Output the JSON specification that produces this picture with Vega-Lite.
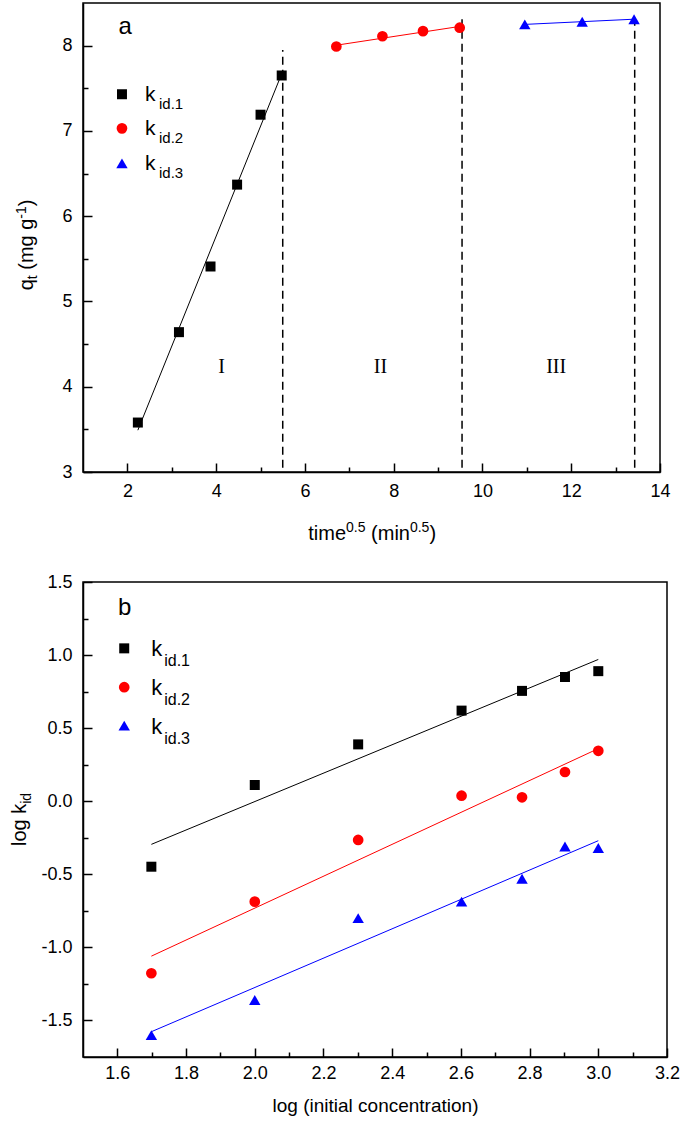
{
  "$schema": "https://vega.github.io/schema/vega-lite/v6.json",
  "autosize": {"type": "pad"},
  "padding": {"left": 9, "top": 2, "right": 5, "bottom": 5},
  "background": "white",
  "spacing": 110,
  "bounds": "flush",
  "config": {
    "view": {"stroke": "black", "strokeWidth": 1.5},
    "font": "Liberation Sans",
    "text": {"font": "Liberation Sans", "color": "black"},
    "axis": {
      "domainColor": "black", "domainWidth": 1.5, "tickColor": "black", "tickWidth": 1.5,
      "labelColor": "black", "titleColor": "black", "labelFont": "Liberation Sans", "titleFont": "Liberation Sans",
      "labelFontSize": 18, "titleFontSize": 20, "titleFontWeight": "normal", "grid": false,
      "labelFlush": false, "labelOverlap": false, "labelBound": false
    }
  },
  "datasets": {
    "a_pts": [
      {"x": 2.236, "y": 3.58, "s": "k1"}, {"x": 3.162, "y": 4.64, "s": "k1"}, {"x": 3.873, "y": 5.41, "s": "k1"},
      {"x": 4.472, "y": 6.37, "s": "k1"}, {"x": 5.0, "y": 7.19, "s": "k1"}, {"x": 5.477, "y": 7.65, "s": "k1"},
      {"x": 6.708, "y": 7.99, "s": "k2"}, {"x": 7.746, "y": 8.11, "s": "k2"}, {"x": 8.66, "y": 8.17, "s": "k2"}, {"x": 9.487, "y": 8.21, "s": "k2"},
      {"x": 10.954, "y": 8.25, "s": "k3"}, {"x": 12.247, "y": 8.28, "s": "k3"}, {"x": 13.416, "y": 8.31, "s": "k3"}
    ],
    "a_fit": [
      {"x": 2.236, "y": 3.49, "s": "k1"}, {"x": 5.477, "y": 7.67, "s": "k1"},
      {"x": 6.708, "y": 8.005, "s": "k2"}, {"x": 9.487, "y": 8.225, "s": "k2"},
      {"x": 10.954, "y": 8.249, "s": "k3"}, {"x": 13.416, "y": 8.31, "s": "k3"}
    ],
    "a_dash": [
      {"x": 5.5, "y": 3.05, "y2": 7.95}, {"x": 9.54, "y": 3.05, "y2": 8.31}, {"x": 13.43, "y": 3.05, "y2": 8.37}
    ],
    "a_roman": [
      {"x": 4.12, "y": 4.23, "t": "I"}, {"x": 7.7, "y": 4.23, "t": "II"}, {"x": 11.66, "y": 4.23, "t": "III"}
    ],
    "a_tag": [{"x": 1.95, "y": 8.14, "t": "a"}],
    "a_leg": [
      {"x": 1.878, "y": 7.43, "s": "k1", "sub": "id.1"},
      {"x": 1.878, "y": 7.03, "s": "k2", "sub": "id.2"},
      {"x": 1.878, "y": 6.62, "s": "k3", "sub": "id.3"}
    ],
    "a_xtitle": [
      {"x": 6.075, "y": 2.199, "t": "time", "part": "main"},
      {"x": 6.926, "y": 2.293, "t": "0.5", "part": "script"},
      {"x": 7.491, "y": 2.199, "t": "(min", "part": "main"},
      {"x": 8.365, "y": 2.293, "t": "0.5", "part": "script"},
      {"x": 8.804, "y": 2.199, "t": ")", "part": "main"}
    ],
    "a_ytitle": [
      {"x": -0.119, "y": 5.13, "t": "q", "part": "main"},
      {"x": -0.029, "y": 5.26, "t": "t", "part": "script"},
      {"x": -0.119, "y": 5.372, "t": "(mg g", "part": "main"},
      {"x": -0.277, "y": 5.971, "t": "-1", "part": "script"},
      {"x": -0.119, "y": 6.116, "t": ")", "part": "main"}
    ],
    "b_pts": [
      {"x": 1.699, "y": -0.448, "s": "k1"}, {"x": 2.0, "y": 0.111, "s": "k1"}, {"x": 2.301, "y": 0.389, "s": "k1"},
      {"x": 2.602, "y": 0.62, "s": "k1"}, {"x": 2.778, "y": 0.755, "s": "k1"}, {"x": 2.903, "y": 0.85, "s": "k1"}, {"x": 3.0, "y": 0.89, "s": "k1"},
      {"x": 1.699, "y": -1.177, "s": "k2"}, {"x": 2.0, "y": -0.687, "s": "k2"}, {"x": 2.301, "y": -0.265, "s": "k2"},
      {"x": 2.602, "y": 0.038, "s": "k2"}, {"x": 2.778, "y": 0.027, "s": "k2"}, {"x": 2.903, "y": 0.2, "s": "k2"}, {"x": 3.0, "y": 0.345, "s": "k2"},
      {"x": 1.699, "y": -1.6, "s": "k3"}, {"x": 2.0, "y": -1.36, "s": "k3"}, {"x": 2.301, "y": -0.8, "s": "k3"},
      {"x": 2.602, "y": -0.687, "s": "k3"}, {"x": 2.778, "y": -0.53, "s": "k3"}, {"x": 2.903, "y": -0.31, "s": "k3"}, {"x": 3.0, "y": -0.32, "s": "k3"}
    ],
    "b_fit": [
      {"x": 1.699, "y": -0.295, "s": "k1"}, {"x": 3.0, "y": 0.97, "s": "k1"},
      {"x": 1.699, "y": -1.06, "s": "k2"}, {"x": 3.0, "y": 0.36, "s": "k2"},
      {"x": 1.699, "y": -1.577, "s": "k3"}, {"x": 3.0, "y": -0.27, "s": "k3"}
    ],
    "b_tag": [{"x": 1.621, "y": 1.274, "t": "b"}],
    "b_leg": [
      {"x": 1.62, "y": 1.046, "s": "k1", "sub": "id.1"},
      {"x": 1.62, "y": 0.78, "s": "k2", "sub": "id.2"},
      {"x": 1.62, "y": 0.517, "s": "k3", "sub": "id.3"}
    ],
    "b_ytitle": [
      {"x": 1.334, "y": -0.306, "t": "log k", "part": "main"},
      {"x": 1.349, "y": -0.018, "t": "id", "part": "script"}
    ]
  },
  "vconcat": [
    {
      "width": 577,
      "height": 469,
      "encoding": {
        "x": {"field": "x", "type": "quantitative", "scale": {"domain": [1, 14], "nice": false, "zero": false}, "axis": null},
        "y": {"field": "y", "type": "quantitative", "scale": {"domain": [3, 8.5], "nice": false, "zero": false}, "axis": null}
      },
      "layer": [
        {
          "data": {"name": "a_dash"},
          "mark": {"type": "rule", "color": "black", "strokeWidth": 1.5, "strokeDash": [8, 5]},
          "encoding": {"y2": {"field": "y2"}}
        },
        {
          "data": {"name": "a_fit"},
          "mark": {"type": "line", "strokeWidth": 1},
          "encoding": {
            "color": {"field": "s", "type": "nominal", "scale": {"domain": ["k1", "k2", "k3"], "range": ["#000000", "#ff0000", "#0000ff"]}, "legend": null}
          }
        },
        {
          "data": {"name": "a_pts"},
          "mark": {"type": "point", "filled": true, "opacity": 1},
          "encoding": {
            "x": {"field": "x", "type": "quantitative", "scale": {"domain": [1, 14], "nice": false, "zero": false},
              "axis": {"values": [2, 4, 6, 8, 10, 12, 14], "tickSize": -9, "labelPadding": 19, "format": "d", "title": null, "orient": "bottom"}},
            "y": {"field": "y", "type": "quantitative", "scale": {"domain": [3, 8.5], "nice": false, "zero": false},
              "axis": {"values": [3, 4, 5, 6, 7, 8], "tickSize": -9, "labelPadding": 20, "format": "d", "title": null, "orient": "left"}},
            "color": {"field": "s", "type": "nominal", "scale": {"domain": ["k1", "k2", "k3"], "range": ["#000000", "#ff0000", "#0000ff"]}, "legend": null},
            "shape": {"field": "s", "type": "nominal", "scale": {"domain": ["k1", "k2", "k3"], "range": ["square", "circle", "triangle-up"]}, "legend": null},
            "size": {"field": "s", "type": "nominal", "scale": {"domain": ["k1", "k2", "k3"], "range": [100, 130, 150]}, "legend": null}
          }
        },
        {
          "data": {"name": "a_pts"},
          "mark": {"type": "point", "opacity": 0},
          "encoding": {
            "x": {"field": "x", "type": "quantitative", "scale": {"domain": [1, 14], "nice": false, "zero": false},
              "axis": {"values": [3, 5, 7, 9, 11, 13], "tickSize": -5, "labels": false, "domain": false, "title": null, "orient": "bottom"}},
            "y": {"field": "y", "type": "quantitative", "scale": {"domain": [3, 8.5], "nice": false, "zero": false},
              "axis": {"values": [3.5, 4.5, 5.5, 6.5, 7.5], "tickSize": -5, "labels": false, "domain": false, "title": null, "orient": "left"}}
          }
        },
        {
          "data": {"name": "a_roman"},
          "mark": {"type": "text", "font": "Liberation Serif", "fontSize": 20, "baseline": "middle", "align": "center", "color": "black"},
          "encoding": {"text": {"field": "t"}}
        },
        {
          "data": {"name": "a_tag"},
          "mark": {"type": "text", "fontSize": 24, "baseline": "alphabetic", "align": "center", "color": "black"},
          "encoding": {"text": {"field": "t"}}
        },
        {
          "data": {"name": "a_leg"},
          "mark": {"type": "point", "filled": true, "opacity": 1},
          "encoding": {
            "color": {"field": "s", "type": "nominal", "scale": {"domain": ["k1", "k2", "k3"], "range": ["#000000", "#ff0000", "#0000ff"]}, "legend": null},
            "shape": {"field": "s", "type": "nominal", "scale": {"domain": ["k1", "k2", "k3"], "range": ["square", "circle", "triangle-up"]}, "legend": null},
            "size": {"field": "s", "type": "nominal", "scale": {"domain": ["k1", "k2", "k3"], "range": [100, 130, 150]}, "legend": null}
          }
        },
        {
          "data": {"name": "a_leg"},
          "mark": {"type": "text", "fontSize": 21, "align": "left", "baseline": "alphabetic", "dx": 23, "dy": 7, "color": "black"},
          "encoding": {"text": {"value": "k"}}
        },
        {
          "data": {"name": "a_leg"},
          "mark": {"type": "text", "fontSize": 15, "align": "left", "baseline": "alphabetic", "dx": 37, "dy": 15, "color": "black"},
          "encoding": {"text": {"field": "sub"}}
        },
        {
          "data": {"name": "a_xtitle"},
          "transform": [{"filter": "datum.part == 'main'"}],
          "mark": {"type": "text", "fontSize": 20, "align": "left", "baseline": "alphabetic", "color": "black"},
          "encoding": {"text": {"field": "t"}}
        },
        {
          "data": {"name": "a_xtitle"},
          "transform": [{"filter": "datum.part == 'script'"}],
          "mark": {"type": "text", "fontSize": 14, "align": "left", "baseline": "alphabetic", "color": "black"},
          "encoding": {"text": {"field": "t"}}
        },
        {
          "data": {"name": "a_ytitle"},
          "transform": [{"filter": "datum.part == 'main'"}],
          "mark": {"type": "text", "fontSize": 20, "align": "left", "baseline": "alphabetic", "angle": 270, "color": "black"},
          "encoding": {"text": {"field": "t"}}
        },
        {
          "data": {"name": "a_ytitle"},
          "transform": [{"filter": "datum.part == 'script'"}],
          "mark": {"type": "text", "fontSize": 14, "align": "left", "baseline": "alphabetic", "angle": 270, "color": "black"},
          "encoding": {"text": {"field": "t"}}
        }
      ],
      "resolve": {"axis": {"x": "independent", "y": "independent"}}
    },
    {
      "width": 584,
      "height": 475,
      "encoding": {
        "x": {"field": "x", "type": "quantitative", "scale": {"domain": [1.5, 3.2], "nice": false, "zero": false}, "axis": null},
        "y": {"field": "y", "type": "quantitative", "scale": {"domain": [-1.75, 1.5], "nice": false, "zero": false}, "axis": null}
      },
      "layer": [
        {
          "data": {"name": "b_fit"},
          "mark": {"type": "line", "strokeWidth": 1},
          "encoding": {
            "color": {"field": "s", "type": "nominal", "scale": {"domain": ["k1", "k2", "k3"], "range": ["#000000", "#ff0000", "#0000ff"]}, "legend": null}
          }
        },
        {
          "data": {"name": "b_pts"},
          "mark": {"type": "point", "filled": true, "opacity": 1},
          "encoding": {
            "x": {"field": "x", "type": "quantitative", "scale": {"domain": [1.5, 3.2], "nice": false, "zero": false},
              "axis": {"values": [1.6, 1.8, 2.0, 2.2, 2.4, 2.6, 2.8, 3.0, 3.2], "tickSize": -9, "labelPadding": 16, "format": ".1f",
                "title": "log (initial concentration)", "titleFontSize": 19, "titlePadding": 14, "orient": "bottom"}},
            "y": {"field": "y", "type": "quantitative", "scale": {"domain": [-1.75, 1.5], "nice": false, "zero": false},
              "axis": {"values": [-1.5, -1.0, -0.5, 0.0, 0.5, 1.0, 1.5], "tickSize": -9, "labelPadding": 20,
                "labelExpr": "replace(format(datum.value, '.1f'), '−', '-')", "title": null, "orient": "left"}},
            "color": {"field": "s", "type": "nominal", "scale": {"domain": ["k1", "k2", "k3"], "range": ["#000000", "#ff0000", "#0000ff"]}, "legend": null},
            "shape": {"field": "s", "type": "nominal", "scale": {"domain": ["k1", "k2", "k3"], "range": ["square", "circle", "triangle-up"]}, "legend": null},
            "size": {"field": "s", "type": "nominal", "scale": {"domain": ["k1", "k2", "k3"], "range": [100, 130, 150]}, "legend": null}
          }
        },
        {
          "data": {"name": "b_pts"},
          "mark": {"type": "point", "opacity": 0},
          "encoding": {
            "x": {"field": "x", "type": "quantitative", "scale": {"domain": [1.5, 3.2], "nice": false, "zero": false},
              "axis": {"values": [1.7, 1.9, 2.1, 2.3, 2.5, 2.7, 2.9, 3.1], "tickSize": -5, "labels": false, "domain": false, "title": null, "orient": "bottom"}},
            "y": {"field": "y", "type": "quantitative", "scale": {"domain": [-1.75, 1.5], "nice": false, "zero": false},
              "axis": {"values": [-1.25, -0.75, -0.25, 0.25, 0.75, 1.25], "tickSize": -5, "labels": false, "domain": false, "title": null, "orient": "left"}}
          }
        },
        {
          "data": {"name": "b_tag"},
          "mark": {"type": "text", "fontSize": 24, "baseline": "alphabetic", "align": "center", "color": "black"},
          "encoding": {"text": {"field": "t"}}
        },
        {
          "data": {"name": "b_leg"},
          "mark": {"type": "point", "filled": true, "opacity": 1},
          "encoding": {
            "color": {"field": "s", "type": "nominal", "scale": {"domain": ["k1", "k2", "k3"], "range": ["#000000", "#ff0000", "#0000ff"]}, "legend": null},
            "shape": {"field": "s", "type": "nominal", "scale": {"domain": ["k1", "k2", "k3"], "range": ["square", "circle", "triangle-up"]}, "legend": null},
            "size": {"field": "s", "type": "nominal", "scale": {"domain": ["k1", "k2", "k3"], "range": [100, 130, 150]}, "legend": null}
          }
        },
        {
          "data": {"name": "b_leg"},
          "mark": {"type": "text", "fontSize": 22, "align": "left", "baseline": "alphabetic", "dx": 27, "dy": 8, "color": "black"},
          "encoding": {"text": {"value": "k"}}
        },
        {
          "data": {"name": "b_leg"},
          "mark": {"type": "text", "fontSize": 16, "align": "left", "baseline": "alphabetic", "dx": 40, "dy": 18, "color": "black"},
          "encoding": {"text": {"field": "sub"}}
        },
        {
          "data": {"name": "b_ytitle"},
          "transform": [{"filter": "datum.part == 'main'"}],
          "mark": {"type": "text", "fontSize": 20, "align": "left", "baseline": "alphabetic", "angle": 270, "color": "black"},
          "encoding": {"text": {"field": "t"}}
        },
        {
          "data": {"name": "b_ytitle"},
          "transform": [{"filter": "datum.part == 'script'"}],
          "mark": {"type": "text", "fontSize": 14, "align": "left", "baseline": "alphabetic", "angle": 270, "color": "black"},
          "encoding": {"text": {"field": "t"}}
        }
      ],
      "resolve": {"axis": {"x": "independent", "y": "independent"}}
    }
  ]
}
